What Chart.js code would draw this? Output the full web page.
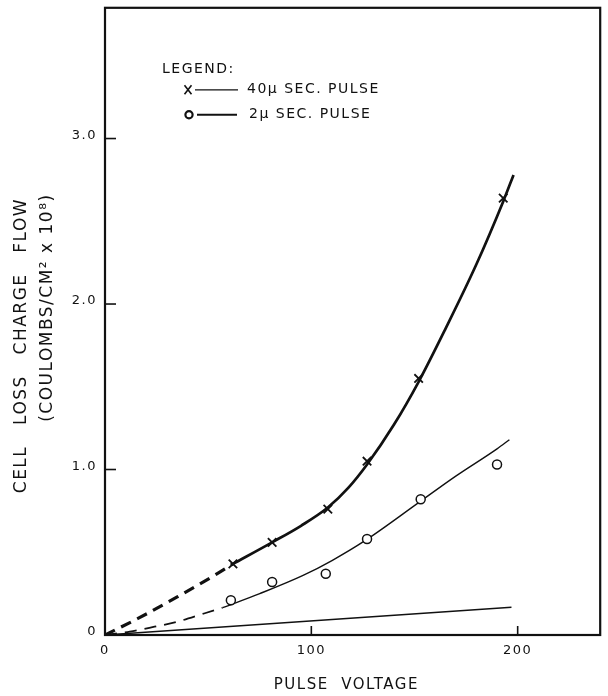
<!DOCTYPE html>
<html>
<head>
<meta charset="utf-8">
<script src="https://cdn.jsdelivr.net/npm/chart.js@4.4.1/dist/chart.umd.min.js"></script>
<style>
  html, body { margin: 0; padding: 0; background: #ffffff; }
  #wrap { width: 608px; height: 696px; }
</style>
</head>
<body>
<div id="wrap"><canvas id="c" width="608" height="696"></canvas></div>
<script>
// ---------- data ----------
const xTickValues = [0, 100, 200];
const xTickLabels = ['0', '100', '200'];
const yTickValues = [0, 1, 2, 3];
const yTickLabels = ['0', '1.0', '2.0', '3.0'];

const legendTitle = 'LEGEND:';
const seriesNames = ['40\u03bc SEC. PULSE', '2\u03bc SEC. PULSE'];

// measured points
const voltage40 = [62, 81, 108, 127, 152, 193];
const charge40  = [0.43, 0.56, 0.76, 1.05, 1.55, 2.64];
const voltage2  = [61, 81, 107, 127, 153, 190];
const charge2   = [0.21, 0.32, 0.37, 0.58, 0.82, 1.03];

// drawn curves (extrapolated dashed part + solid fitted part)
const fit40DashV = [0, 16, 35, 55, 62];
const fit40DashQ = [0, 0.10, 0.23, 0.375, 0.43];
const fit40V = [62, 81, 95, 108, 118, 127, 140, 152, 165, 180, 193, 198];
const fit40Q = [0.43, 0.56, 0.66, 0.77, 0.89, 1.03, 1.27, 1.53, 1.85, 2.24, 2.62, 2.78];

const fit2DashV = [0, 12, 24, 35, 48, 57];
const fit2DashQ = [0, 0.02, 0.05, 0.08, 0.13, 0.165];
const fit2V = [57, 75, 96, 110, 126, 152, 170, 190, 196];
const fit2Q = [0.165, 0.25, 0.36, 0.45, 0.57, 0.80, 0.96, 1.125, 1.18];

const baselineV = [0, 197];
const baselineQ = [0, 0.167];

const xTitle = 'PULSE  VOLTAGE  ';
const yTitle = ['CELL   LOSS   CHARGE   FLOW       ', '    (COULOMBS/CM\u00b2 x 10\u2078)'];

// ---------- chart ----------
const INK = '#111111';
const FONT = 'DejaVu Sans';
const pts = (xs, ys) => xs.map((x, i) => ({ x: x, y: ys[i] }));

Chart.defaults.font.family = FONT;
Chart.defaults.color = INK;

const curve = (data, width, dash) => ({
  data: data, showLine: true, pointRadius: 0, pointHoverRadius: 0,
  borderColor: INK, borderWidth: width, borderDash: dash || [],
  cubicInterpolationMode: 'monotone', fill: false
});

const frameAndLegend = {
  id: 'frameAndLegend',
  beforeDraw(chart) { chart.ctx.letterSpacing = '1.5px'; },
  afterDraw(chart) {
    const { ctx, chartArea: a, scales: { x, y } } = chart;
    ctx.save();
    ctx.strokeStyle = INK;
    ctx.lineCap = 'butt';
    // inward tick marks
    ctx.lineWidth = 1.6;
    y.ticks.forEach(t => {
      if (t.value === 0) return;
      const py = y.getPixelForValue(t.value);
      ctx.beginPath(); ctx.moveTo(a.left, py); ctx.lineTo(a.left + 11, py); ctx.stroke();
    });
    x.ticks.forEach(t => {
      if (t.value === 0) return;
      const px = x.getPixelForValue(t.value);
      ctx.beginPath(); ctx.moveTo(px, a.bottom); ctx.lineTo(px, a.bottom - 9); ctx.stroke();
    });
    // frame
    ctx.lineWidth = 2.2;
    ctx.strokeRect(a.left, a.top, a.right - a.left, a.bottom - a.top);

    // legend
    ctx.fillStyle = INK;
    ctx.font = '14px "' + FONT + '"';
    ctx.letterSpacing = '1.5px';
    ctx.textBaseline = 'middle';
    ctx.textAlign = 'left';
    ctx.fillText(legendTitle, a.left + 57, a.top + 62);

    const mx = a.left + 83;
    const r1 = a.top + 82, r2 = a.top + 107;
    // 40 us: small x marker + thin line
    ctx.lineWidth = 1.6;
    ctx.beginPath();
    ctx.moveTo(mx - 3.5, r1 - 4.5); ctx.lineTo(mx + 3.5, r1 + 4.5);
    ctx.moveTo(mx + 3.5, r1 - 4.5); ctx.lineTo(mx - 3.5, r1 + 4.5);
    ctx.stroke();
    ctx.lineWidth = 1.2;
    ctx.beginPath(); ctx.moveTo(mx + 7, r1); ctx.lineTo(mx + 50, r1); ctx.stroke();
    ctx.fillText(seriesNames[0], a.left + 142, r1);
    // 2 us: circle marker + line
    ctx.lineWidth = 2.2;
    ctx.beginPath(); ctx.arc(mx + 1, r2, 3.6, 0, Math.PI * 2); ctx.stroke();
    ctx.lineWidth = 2;
    ctx.beginPath(); ctx.moveTo(mx + 9, r2); ctx.lineTo(mx + 49, r2); ctx.stroke();
    ctx.fillText(seriesNames[1], a.left + 144, r2);

    ctx.restore();
    ctx.letterSpacing = '0px';
  }
};

new Chart(document.getElementById('c'), {
  type: 'scatter',
  data: {
    datasets: [
      { data: pts(voltage40, charge40), showLine: false, pointStyle: 'crossRot',
        pointRadius: 6, pointHoverRadius: 6, borderColor: INK, borderWidth: 1.8,
        backgroundColor: INK },
      { data: pts(voltage2, charge2), showLine: false, pointStyle: 'circle',
        pointRadius: 4.5, pointHoverRadius: 4.5, borderColor: INK, borderWidth: 1.5,
        backgroundColor: '#ffffff' },
      curve(pts(fit40DashV, fit40DashQ), 3.2, [11, 7]),
      curve(pts(fit40V, fit40Q), 2.7),
      curve(pts(fit2DashV, fit2DashQ), 1.8, [12, 8]),
      curve(pts(fit2V, fit2Q), 1.4),
      curve(pts(baselineV, baselineQ), 1.5)
    ]
  },
  options: {
    responsive: false,
    animation: false,
    events: [],
    layout: { padding: { top: 6, right: 3, bottom: 0, left: 0 } },
    plugins: { legend: { display: false }, tooltip: { enabled: false } },
    scales: {
      x: {
        type: 'linear', min: 0, max: 240,
        grid: { display: false, drawTicks: false },
        border: { display: false },
        afterBuildTicks: s => { s.ticks = xTickValues.map(v => ({ value: v })); },
        afterFit: s => { s.height = 61; s.paddingLeft = 0; s.paddingRight = 0; },
        ticks: {
          padding: 8, color: INK, font: { size: 13 }, maxRotation: 0, autoSkip: false,
          callback: v => xTickLabels[xTickValues.indexOf(v)]
        },
        title: {
          display: true, text: xTitle, color: INK,
          font: { size: 15, lineHeight: 1.2 }, padding: { top: 0, bottom: 2 }
        }
      },
      y: {
        type: 'linear', min: 0, max: 3.79,
        grid: { display: false, drawTicks: false },
        border: { display: false },
        afterBuildTicks: s => { s.ticks = yTickValues.map(v => ({ value: v })); },
        afterFit: s => { s.width = 105; s.paddingTop = 0; s.paddingBottom = 0; },
        ticks: {
          padding: 8, color: INK, font: { size: 13 }, labelOffset: -3, autoSkip: false,
          callback: v => yTickLabels[yTickValues.indexOf(v)]
        },
        title: {
          display: true, text: yTitle, color: INK,
          font: { size: 17, lineHeight: 1.55 }, padding: { top: 8, bottom: 0 }
        }
      }
    }
  },
  plugins: [frameAndLegend]
});
</script>
</body>
</html>
